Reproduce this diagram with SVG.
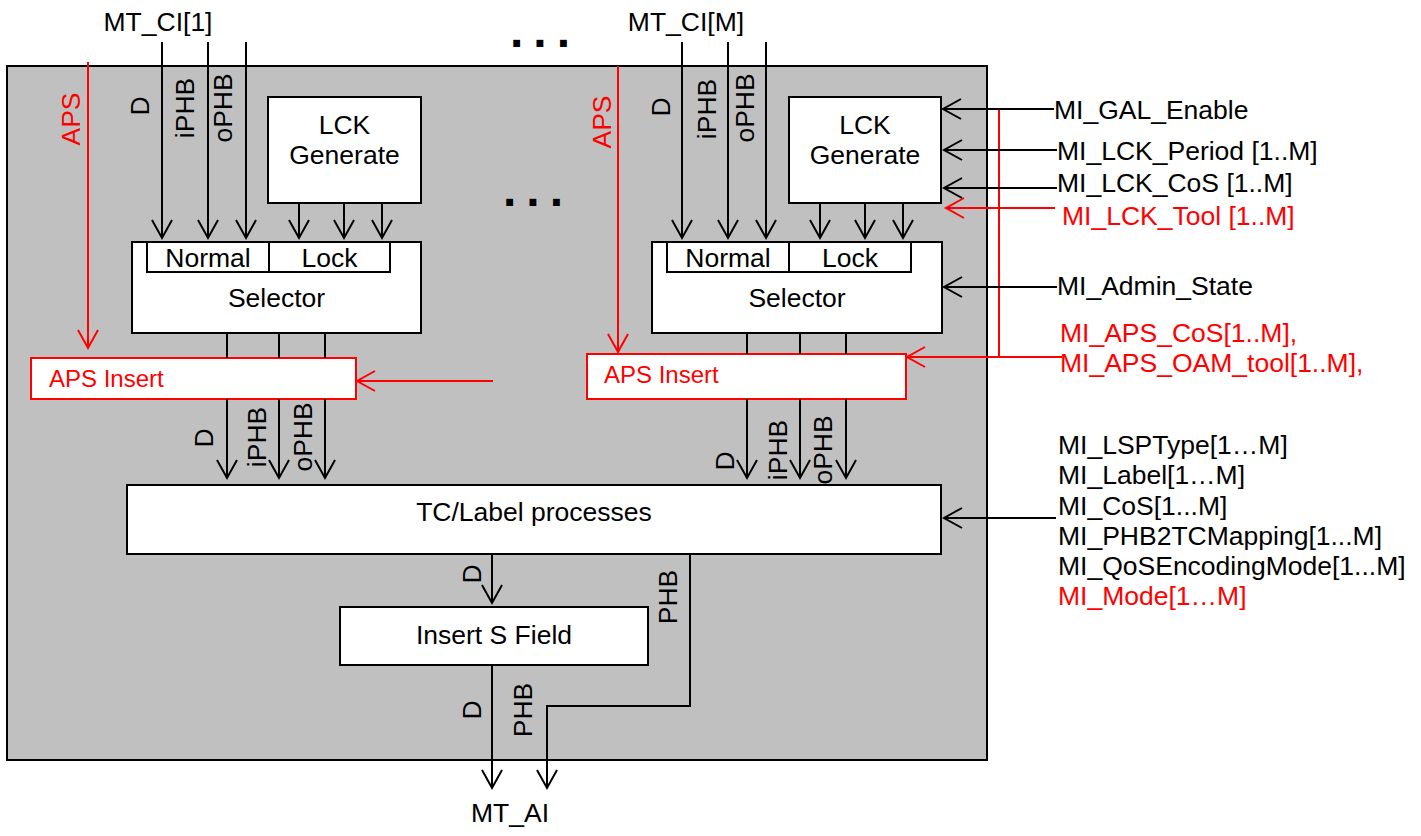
<svg xmlns="http://www.w3.org/2000/svg" width="1421" height="836" viewBox="0 0 1421 836">
<style>
.bg{fill:#c0c0c0;stroke:#000;stroke-width:2}
.box{fill:#fff;stroke:#000;stroke-width:2}
.rbox{fill:#fff;stroke:#f00;stroke-width:2}
.ln{fill:none;stroke:#000;stroke-width:2}
.rl{fill:none;stroke:#f00;stroke-width:2}
.a{marker-end:url(#ah)}
.ra{marker-end:url(#rah)}
text{font-family:"Liberation Sans",Arial,sans-serif;font-size:26.5px;fill:#000}
.c{text-anchor:middle}
.r{fill:#f00}
.s24{font-size:24px}
.dots{font-size:48px;font-weight:bold;letter-spacing:10px}
</style>
<defs>
<marker id="ah" markerUnits="userSpaceOnUse" markerWidth="24" markerHeight="24" refX="0" refY="0" orient="auto" overflow="visible">
<path d="M-18,-10 L0,0 L-18,10" fill="none" stroke="#000" stroke-width="2"/>
</marker>
<marker id="rah" markerUnits="userSpaceOnUse" markerWidth="24" markerHeight="24" refX="0" refY="0" orient="auto" overflow="visible">
<path d="M-18,-10 L0,0 L-18,10" fill="none" stroke="#f00" stroke-width="2"/>
</marker>
</defs>

<g id="function-block">
<rect class="bg" x="7" y="66" width="980" height="694"/>
</g>

<g id="lck-generate-1">
<rect class="box" x="268" y="97" width="153" height="106"/>
<text class="c" x="344.5" y="133.6">LCK</text>
<text class="c" x="344.5" y="163.6">Generate</text>
</g>
<g id="selector-1">
<rect class="box" x="132" y="242" width="289" height="91"/>
<rect class="box" x="147" y="242" width="122" height="30"/>
<rect class="box" x="269" y="242" width="121" height="30"/>
<text class="c" x="208" y="266.6">Normal</text>
<text class="c" x="329.5" y="266.6">Lock</text>
<text class="c" x="276.5" y="306.7">Selector</text>
</g>
<g id="aps-insert-1">
<rect class="rbox" x="31" y="358" width="325" height="41"/>
<text class="r s24" x="49" y="386.5">APS Insert</text>
</g>

<g id="lck-generate-m">
<rect class="box" x="789" y="97" width="152" height="106"/>
<text class="c" x="865" y="133.6">LCK</text>
<text class="c" x="865" y="163.6">Generate</text>
</g>
<g id="selector-m">
<rect class="box" x="652" y="242" width="290" height="91"/>
<rect class="box" x="667" y="242" width="122" height="30"/>
<rect class="box" x="789" y="242" width="122" height="30"/>
<text class="c" x="728" y="266.6">Normal</text>
<text class="c" x="850" y="266.6">Lock</text>
<text class="c" x="797" y="306.7">Selector</text>
</g>
<g id="aps-insert-m">
<rect class="rbox" x="587" y="354" width="319" height="45"/>
<text class="r s24" x="604" y="383">APS Insert</text>
</g>

<g id="tc-label">
<rect class="box" x="127" y="485" width="814" height="69"/>
<text class="c" x="534" y="521">TC/Label processes</text>
</g>
<g id="insert-s-field">
<rect class="box" x="340" y="607" width="308" height="58"/>
<text class="c" x="494" y="643.6">Insert S Field</text>
</g>

<g id="connectors">
<line class="ln a" x1="162" y1="42" x2="162" y2="238"/>
<line class="ln a" x1="208" y1="42" x2="208" y2="238"/>
<line class="ln a" x1="246" y1="42" x2="246" y2="238"/>
<line class="ln a" x1="299" y1="203" x2="299" y2="238"/>
<line class="ln a" x1="344" y1="203" x2="344" y2="238"/>
<line class="ln a" x1="382" y1="203" x2="382" y2="238"/>
<line class="rl ra" x1="88" y1="62" x2="88" y2="348"/>
<line class="ln" x1="227" y1="333" x2="227" y2="358"/>
<line class="ln" x1="279" y1="333" x2="279" y2="358"/>
<line class="ln" x1="325" y1="333" x2="325" y2="358"/>
<line class="ln a" x1="227" y1="399" x2="227" y2="478"/>
<line class="ln a" x1="279" y1="399" x2="279" y2="478"/>
<line class="ln a" x1="325" y1="399" x2="325" y2="478"/>
<line class="rl ra" x1="493" y1="381" x2="357" y2="381"/>

<line class="ln a" x1="682" y1="42" x2="682" y2="238"/>
<line class="ln a" x1="728" y1="42" x2="728" y2="238"/>
<line class="ln a" x1="766" y1="42" x2="766" y2="238"/>
<line class="ln a" x1="820" y1="203" x2="820" y2="238"/>
<line class="ln a" x1="865" y1="203" x2="865" y2="238"/>
<line class="ln a" x1="903" y1="203" x2="903" y2="238"/>
<line class="rl ra" x1="618" y1="66" x2="618" y2="352"/>
<line class="ln" x1="747" y1="333" x2="747" y2="354"/>
<line class="ln" x1="800" y1="333" x2="800" y2="354"/>
<line class="ln" x1="846" y1="333" x2="846" y2="354"/>
<line class="ln a" x1="747" y1="399" x2="747" y2="478"/>
<line class="ln a" x1="800" y1="399" x2="800" y2="478"/>
<line class="ln a" x1="846" y1="399" x2="846" y2="478"/>
<line class="rl ra" x1="1062" y1="357" x2="907" y2="357"/>
<line class="rl" x1="999" y1="108" x2="999" y2="357"/>

<line class="ln a" x1="1054" y1="109" x2="943" y2="109"/>
<line class="ln a" x1="1057" y1="150" x2="944" y2="150"/>
<line class="ln a" x1="1057" y1="188" x2="944" y2="188"/>
<line class="rl ra" x1="1055" y1="208" x2="946" y2="208"/>
<line class="ln a" x1="1057" y1="287" x2="944" y2="287"/>
<line class="ln a" x1="1056" y1="518" x2="944" y2="518"/>

<line class="ln a" x1="492" y1="554" x2="492" y2="603"/>
<path class="ln a" d="M690,554 V706 H547 V788"/>
<line class="ln a" x1="492" y1="665" x2="492" y2="788"/>
</g>

<g id="labels">
<text class="c" x="158" y="31">MT_CI[1]</text>
<text class="c" x="686" y="31">MT_CI[M]</text>
<text class="dots" x="510" y="46.5">...</text>
<text class="dots" x="503" y="205.5">...</text>

<text class="c r" transform="translate(71,119) rotate(-90)" dy="9.4">APS</text>
<text class="c" transform="translate(140,106) rotate(-90)" dy="9.4">D</text>
<text class="c" transform="translate(185,108) rotate(-90)" dy="9.4">iPHB</text>
<text class="c" transform="translate(223,108) rotate(-90)" dy="9.4">oPHB</text>

<text class="c r" transform="translate(602,122) rotate(-90)" dy="9.4">APS</text>
<text class="c" transform="translate(661,107) rotate(-90)" dy="9.4">D</text>
<text class="c" transform="translate(707,109) rotate(-90)" dy="9.4">iPHB</text>
<text class="c" transform="translate(745,108) rotate(-90)" dy="9.4">oPHB</text>

<text class="c" transform="translate(204,438) rotate(-90)" dy="9.4">D</text>
<text class="c" transform="translate(257,437) rotate(-90)" dy="9.4">iPHB</text>
<text class="c" transform="translate(303,437) rotate(-90)" dy="9.4">oPHB</text>

<text class="c" transform="translate(725,461) rotate(-90)" dy="9.4">D</text>
<text class="c" transform="translate(778,450) rotate(-90)" dy="9.4">iPHB</text>
<text class="c" transform="translate(823,450) rotate(-90)" dy="9.4">oPHB</text>

<text class="c" transform="translate(472,574) rotate(-90)" dy="9.4">D</text>
<text class="c" transform="translate(668,597) rotate(-90)" dy="9.4">PHB</text>
<text class="c" transform="translate(472,710) rotate(-90)" dy="9.4">D</text>
<text class="c" transform="translate(523,710) rotate(-90)" dy="9.4">PHB</text>

<text class="c" x="510" y="821.6">MT_AI</text>

<text x="1054" y="118.6">MI_GAL_Enable</text>
<text x="1057" y="160.3">MI_LCK_Period [1..M]</text>
<text x="1057" y="192">MI_LCK_CoS [1..M]</text>
<text class="r" x="1062" y="225.3">MI_LCK_Tool [1..M]</text>
<text x="1057" y="295.3">MI_Admin_State</text>
<text class="r" x="1060" y="342">MI_APS_CoS[1..M],</text>
<text class="r" x="1060" y="372">MI_APS_OAM_tool[1..M],</text>

<text x="1058" y="453.6">MI_LSPType[1…M]</text>
<text x="1058" y="483.8">MI_Label[1…M]</text>
<text x="1058" y="514.6">MI_CoS[1...M]</text>
<text x="1058" y="544.8">MI_PHB2TCMapping[1...M]</text>
<text x="1058" y="575">MI_QoSEncodingMode[1...M]</text>
<text class="r" x="1058" y="605.3">MI_Mode[1…M]</text>
</g>
</svg>
